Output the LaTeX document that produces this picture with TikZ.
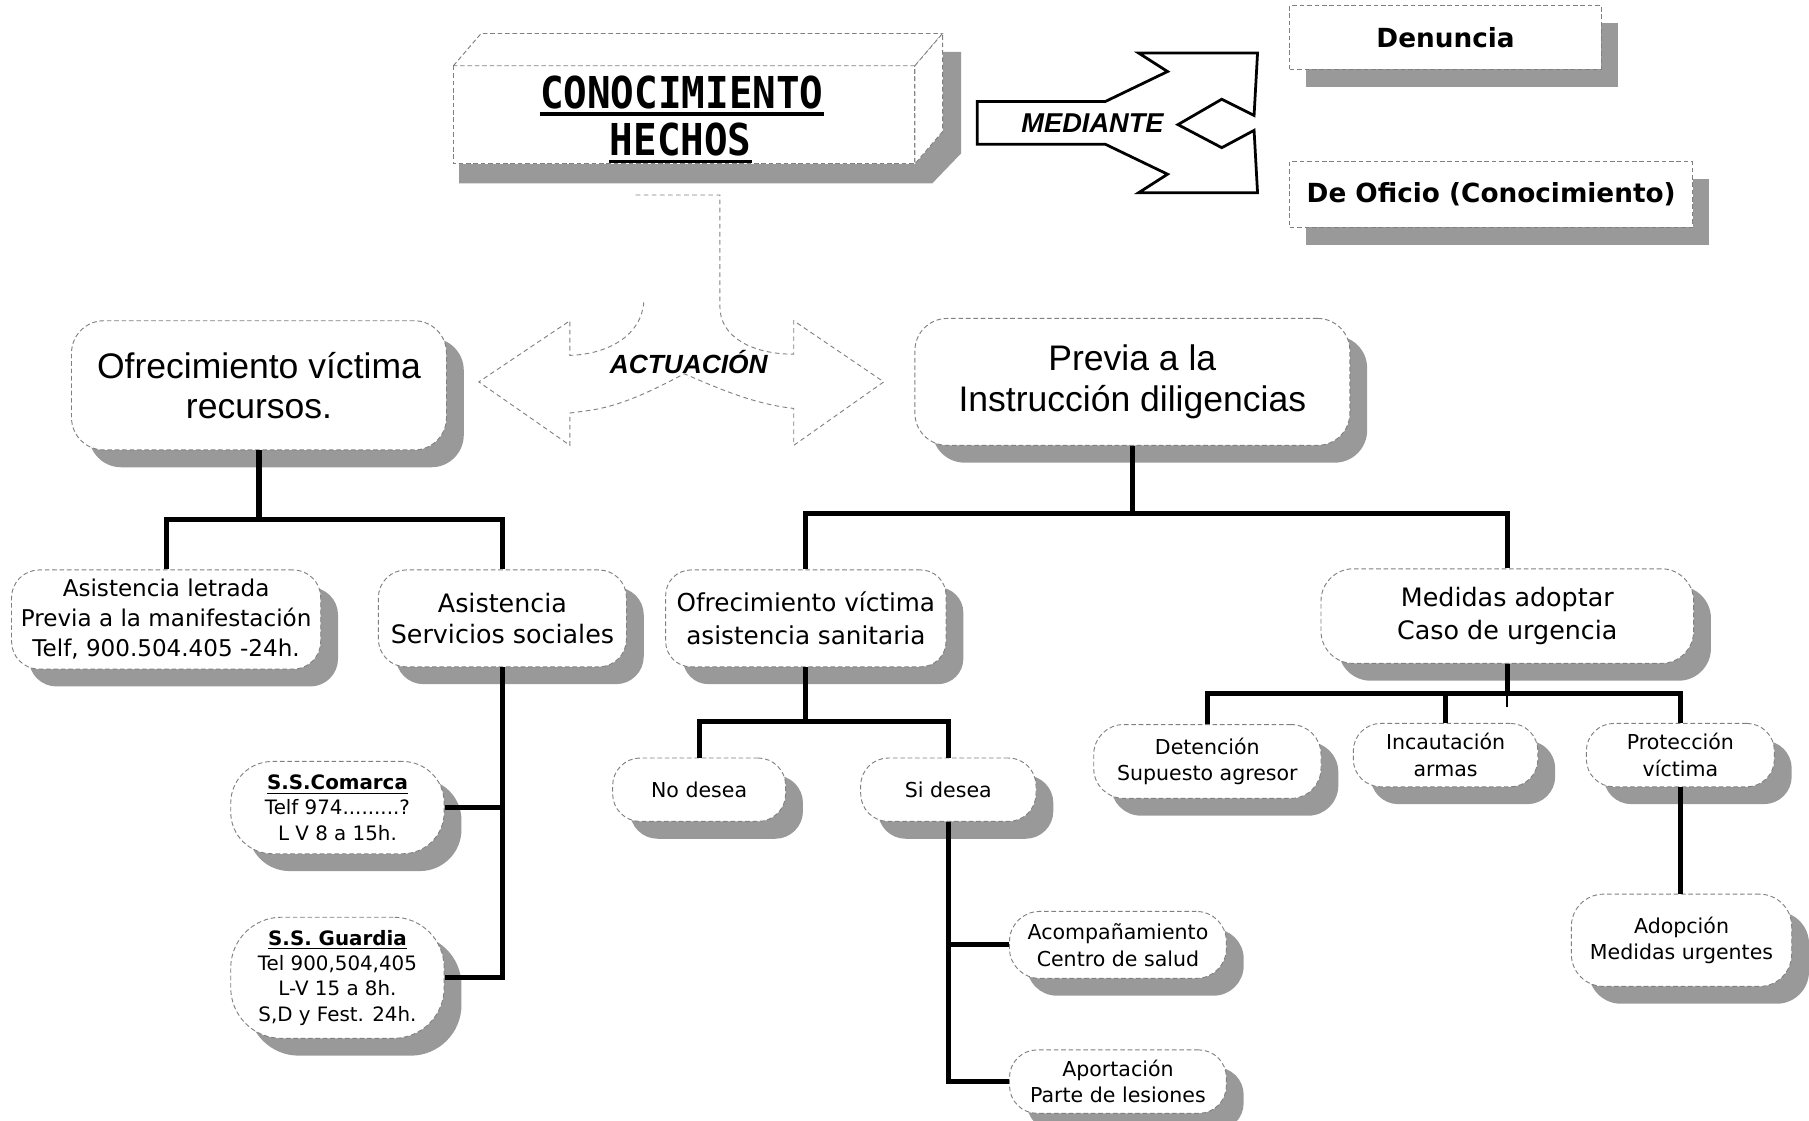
\documentclass[tikz,border=0pt]{standalone}
\usepackage{fontspec}
\setmainfont{DejaVu Sans}
\newfontfamily\arialfont{Liberation Sans}
\newfontfamily\lucfont{DejaVu Sans}
\newfontfamily\cmono{DejaVu Sans Mono}
\usetikzlibrary{shadows}
\newcommand\FBig{\arialfont\fontsize{15.4}{17.5}\selectfont}
\newcommand\FMid{\lucfont\fontsize{11}{13.5}\selectfont}
\newcommand\FSmall{\lucfont\fontsize{8.9}{11.5}\selectfont}
\newcommand\FSS{\lucfont\fontsize{8.6}{11}\selectfont}
\tikzset{
  faint/.style={draw=black!50, dash pattern=on 2pt off 1.2pt, line width=0.4pt},
  bx/.style={faint, fill=white, align=center, inner sep=0pt,
    drop shadow={shadow xshift=7.5pt, shadow yshift=-7.5pt, fill=black!40, opacity=1}},
  rbx/.style={faint, fill=white, align=center, inner sep=0pt,
    drop shadow={shadow xshift=7pt, shadow yshift=-7.5pt, fill=black!40, opacity=1}},
  conn/.style={line width=2.2pt, black},
  outl/.style={draw=black!50, dash pattern=on 2pt off 1.5pt, line width=0.4pt},
}
\begin{document}
\begin{tikzpicture}[x=0.5pt, y=-0.5pt]
\useasboundingbox (0,0) rectangle (1568,971);

% ---------- 3D box CONOCIMIENTO HECHOS ----------
\fill[black!40] (398,142) -- (793,142) -- (817,114) -- (817,45) -- (833,45) -- (833,133) -- (808,159) -- (398,159) -- cycle;
\filldraw[faint, fill=white] (393,57) rectangle (793,142);
\filldraw[faint, fill=white] (393,57) -- (417,29) -- (817,29) -- (793,57) -- cycle;
\filldraw[faint, fill=white] (793,57) -- (817,29) -- (817,114) -- (793,142) -- cycle;
\node[font=\cmono\bfseries\fontsize{17}{20}\selectfont, inner sep=0pt] (t1) at (591,80) {\scalebox{1}[1.12]{CONOCIMIENTO}};
\node[font=\cmono\bfseries\fontsize{17}{20}\selectfont, inner sep=0pt] (t2) at (590,121) {\scalebox{1}[1.12]{HECHOS}};
\draw[line width=1.4pt] ([yshift=-2.5pt]t1.base west) -- ([yshift=-2.5pt]t1.base east);
\draw[line width=1.4pt] ([yshift=-2.5pt]t2.base west) -- ([yshift=-2.5pt]t2.base east);

% ---------- MEDIANTE shape ----------
\draw[line width=1.2pt, line join=miter] (847,88) -- (958,88) -- (1012,62) -- (987,46) -- (1090,46) -- (1087,100) -- (1059,86) -- (1021,108) -- (1059,128) -- (1087,113) -- (1090,167) -- (987,167) -- (1012,151) -- (958,125) -- (847,125) -- cycle;
\node[font=\arialfont\bfseries\itshape\fontsize{11.8}{14}\selectfont, inner sep=0pt] (med) at (947,107) {MEDIANTE};

% ---------- Denuncia / De Oficio ----------
\node[rbx, minimum width=135pt, minimum height=27.5pt, font=\lucfont\bfseries\fontsize{11.4}{14}\selectfont] (denuncia) at (1253,32.5) {Denuncia};
\node[rbx, minimum width=174.5pt, minimum height=28.5pt, font=\lucfont\bfseries\fontsize{11.4}{14}\selectfont] (oficio) at (1292.5,168.5) {De Oficio (Conocimiento)};

% ---------- ACTUACION double arrow ----------
\draw[outl] (551,169) -- (624,169) -- (624,266) .. controls (624,292) and (652,307) .. (688,307) -- (688,278) -- (766,331) -- (688,386) -- (688,354) .. controls (650,350) and (615,333) .. (593,324) .. controls (570,336) and (540,352) .. (509,356) -- (494,358) -- (494,386) -- (415,331) -- (494,278) -- (494,308) .. controls (528,307) and (556,290) .. (558,262);
\node[font=\arialfont\bfseries\itshape\fontsize{11.4}{14}\selectfont, inner sep=0pt] (act) at (597,314) {ACTUACIÓN};

% ---------- main boxes ----------
\node[bx, rounded corners=14pt, minimum width=162.5pt, minimum height=56pt, font=\FBig] (recursos) at (224.5,334) {Ofrecimiento víctima\\recursos.};
\node[bx, rounded corners=14pt, minimum width=188.5pt, minimum height=55pt, font=\FBig] (previa) at (981.5,331) {Previa a la\\Instrucción diligencias};

% ---------- second level ----------
\node[bx, rounded corners=12pt, minimum width=134pt, minimum height=43pt, font=\lucfont\fontsize{10}{13}\selectfont] (letrada) at (144,537) {Asistencia letrada\\Previa a la manifestación\\Telf, 900.504.405 -24h.};
\node[bx, rounded corners=12pt, minimum width=107.5pt, minimum height=42pt, font=\FMid] (sociales) at (435.5,536) {Asistencia\\Servicios sociales};
\node[bx, rounded corners=11pt, minimum width=121.5pt, minimum height=42pt, font=\lucfont\fontsize{10.7}{14}\selectfont] (sanitaria) at (698.5,536) {Ofrecimiento víctima\\asistencia sanitaria};
\node[bx, rounded corners=14pt, minimum width=161.5pt, minimum height=41pt, font=\lucfont\fontsize{11}{14}\selectfont] (medidas) at (1306.5,534) {Medidas adoptar\\Caso de urgencia};

% ---------- third level ----------
\node[bx, rounded corners=13pt, minimum width=98.5pt, minimum height=32pt, font=\FSmall] (detencion) at (1046.5,660) {Detención\\Supuesto agresor};
\node[bx, rounded corners=12pt, minimum width=80pt, minimum height=27.5pt, font=\FSmall] (incautacion) at (1253,654.5) {Incautación\\armas};
\node[bx, rounded corners=12pt, minimum width=81.5pt, minimum height=27.5pt, font=\FSmall] (proteccion) at (1456.5,654.5) {Protección\\víctima};
\node[bx, rounded corners=12pt, minimum width=75pt, minimum height=27.5pt, font=\FSmall] (nodesea) at (606,684.5) {No desea};
\node[bx, rounded corners=12pt, minimum width=76pt, minimum height=27.5pt, font=\FSmall] (sidesea) at (822,684.5) {Si desea};
\node[bx, rounded corners=18pt, minimum width=92.5pt, minimum height=40pt, font=\FSS] (comarca) at (292.5,700) {{\bfseries\underline{S.S.Comarca}}\\Telf 974.........?\\L V 8 a 15h.};
\node[bx, rounded corners=22pt, minimum width=92.5pt, minimum height=52.5pt, font=\FSS] (guardia) at (292.5,847.5) {{\bfseries\underline{S.S. Guardia}}\\Tel 900,504,405\\L-V 15 a 8h.\\S,D y Fest. 24h.};
\node[bx, rounded corners=13pt, minimum width=94pt, minimum height=29pt, font=\FSmall] (acomp) at (969,819) {Acompañamiento\\Centro de salud};
\node[bx, rounded corners=12pt, minimum width=94pt, minimum height=27.5pt, font=\FSmall] (aportacion) at (969,937.5) {Aportación\\Parte de lesiones};
\node[bx, rounded corners=14pt, minimum width=95.5pt, minimum height=40pt, font=\FSmall] (adopcion) at (1457.5,815) {Adopción\\Medidas urgentes};

% ---------- connectors ----------
\draw[conn] (recursos.south) -- (recursos.south |- 0,450) coordinate (j1);
\draw[conn] (letrada.north) |- (j1) -| (sociales.north);
\draw[conn] (previa.south) -- (previa.south |- 0,445) coordinate (j2);
\draw[conn] (sanitaria.north) |- (j2) -| (medidas.north);
\draw[conn] (comarca.east) -| (sociales.south);
\draw[conn] (sociales.south) |- (guardia.east);
\draw[conn] (sanitaria.south) -- (sanitaria.south |- 0,625) coordinate (j3);
\draw[conn] (nodesea.north) |- (j3) -| (sidesea.north);
\draw[conn] (sidesea.south) |- (aportacion.west);
\draw[conn] (sidesea.south |- acomp.west) -- (acomp.west);
\draw[conn] (medidas.south) -- (medidas.south |- 0,601) coordinate (j4);
\draw[conn] (detencion.north) |- (j4) -| (proteccion.north);
\draw[conn] (incautacion.north) -- (incautacion.north |- j4);
\draw[line width=1pt] (j4) -- ++(0,12);
\draw[conn] (proteccion.south) -- (proteccion.south |- adopcion.north);
\end{tikzpicture}
\end{document}
